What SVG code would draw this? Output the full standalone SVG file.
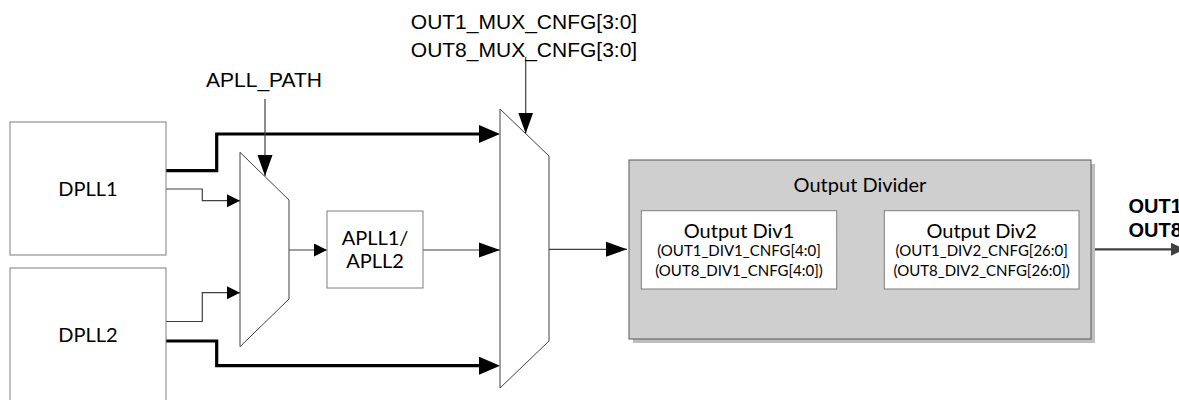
<svg xmlns="http://www.w3.org/2000/svg" width="1179" height="400" viewBox="0 0 1179 400">
<style>
.bg{fill:#ffffff}
.box{fill:#ffffff;stroke:#7f7f7f;stroke-width:1}
.mux{fill:#ffffff;stroke:#404040;stroke-width:1}
.thin{fill:none;stroke:#404040;stroke-width:1.2}
.thick{fill:none;stroke:#000000;stroke-width:3.2}
.cal{font-family:Lato,"Liberation Sans",sans-serif;fill:#000}
.ari{font-family:"Liberation Sans",Arial,sans-serif;fill:#000}
</style>
<defs>
<marker id="arrS" markerUnits="userSpaceOnUse" markerWidth="14" markerHeight="14" refX="13" refY="6.5" orient="auto">
<path d="M0,0 L13,6.5 L0,13 z" fill="#000"/>
</marker>
<marker id="arrL" markerUnits="userSpaceOnUse" markerWidth="22" markerHeight="16" refX="21" refY="8" orient="auto">
<path d="M0,0.5 L21,8 L0,15.5 z" fill="#000"/>
</marker>
<marker id="arrT" markerUnits="userSpaceOnUse" markerWidth="22" markerHeight="18" refX="15" refY="9" orient="auto">
<path d="M0,0 L21,9 L0,18 z" fill="#000"/>
</marker>
<marker id="arrO" markerUnits="userSpaceOnUse" markerWidth="16" markerHeight="14" refX="14" refY="6.5" orient="auto">
<path d="M0,0 L14,6.5 L0,13 z" fill="#404040"/>
</marker>
</defs>
<rect class="bg" x="0" y="0" width="1179" height="400"/>

<g id="connectors">
  <!-- DPLL1 thick to out mux -->
  <path class="thick" d="M166,170.7 H216.7 V134 H494" marker-end="url(#arrT)"/>
  <!-- DPLL2 thick to out mux -->
  <path class="thick" d="M166,341 H216.7 V365.7 H494" marker-end="url(#arrT)"/>
  <!-- DPLL1 thin to apll mux -->
  <path class="thin" d="M166,189 H202.3 V200.7 H240" marker-end="url(#arrS)"/>
  <!-- DPLL2 thin to apll mux -->
  <path class="thin" d="M166,321.5 H202.3 V292.7 H240" marker-end="url(#arrS)"/>
  <!-- APLL mux to APLL box -->
  <path class="thin" d="M289,250 H327" marker-end="url(#arrS)"/>
  <!-- APLL box to out mux -->
  <path class="thin" d="M423,250 H500" marker-end="url(#arrL)"/>
  <!-- out mux to output divider -->
  <path class="thin" d="M549,249.3 H627" marker-end="url(#arrL)"/>
  <!-- Div1 to Div2 -->
  <path class="thin" d="M836.7,249.3 H884" stroke="#595959" marker-end="url(#arrL)"/>
  <!-- output -->
  <path d="M1079,249.3 H1185" fill="none" stroke="#404040" stroke-width="2.2" marker-end="url(#arrO)"/>
  <!-- control arrows -->
  <path class="thin" d="M265,99 V176" marker-end="url(#arrL)"/>
  <path class="thin" d="M525.7,57 V133.6" marker-end="url(#arrL)"/>
</g>

<g id="dpll1">
  <rect class="box" x="10" y="122" width="156" height="133"/>
  <text class="cal" x="88" y="196" font-size="20" text-anchor="middle">DPLL1</text>
</g>
<g id="dpll2">
  <rect class="box" x="10" y="268" width="156" height="150"/>
  <text class="cal" x="88" y="341.5" font-size="20" text-anchor="middle">DPLL2</text>
</g>
<g id="apll-mux">
  <polygon class="mux" points="240,152.3 289,200 289,299 240,346.7"/>
</g>
<g id="apll-path-label">
  <text class="ari" x="264" y="87" font-size="21" text-anchor="middle">APLL_PATH</text>
</g>
<g id="apll">
  <rect class="box" x="327" y="211" width="96" height="77"/>
  <text class="cal" x="375" y="245" font-size="20" text-anchor="middle">APLL1/</text>
  <text class="cal" x="375" y="268" font-size="20" text-anchor="middle">APLL2</text>
</g>
<g id="out-mux">
  <polygon class="mux" points="500,109 549,156 549,341 500,388"/>
</g>
<g id="mux-cnfg-label">
  <text class="ari" x="524" y="29" font-size="21" text-anchor="middle">OUT1_MUX_CNFG[3:0]</text>
  <text class="ari" x="524" y="57" font-size="21" text-anchor="middle">OUT8_MUX_CNFG[3:0]</text>
</g>
<g id="output-divider">
  <rect x="633" y="164" width="462" height="179" fill="#bfbfbf"/>
  <rect x="629" y="160" width="462" height="179" fill="#cfcfcf" stroke="#595959" stroke-width="1"/>
  <text class="cal" x="860" y="191.5" font-size="20" text-anchor="middle">Output Divider</text>
</g>
<g id="output-div1">
  <rect class="box" x="641.3" y="210.7" width="195.4" height="78.3"/>
  <text class="cal" x="739" y="237.5" font-size="20" text-anchor="middle">Output Div1</text>
  <text class="cal" x="739" y="256" font-size="15" text-anchor="middle">(OUT1_DIV1_CNFG[4:0]</text>
  <text class="cal" x="739" y="276" font-size="15" text-anchor="middle">(OUT8_DIV1_CNFG[4:0])</text>
</g>
<g id="output-div2">
  <rect class="box" x="884.3" y="210.7" width="194.7" height="78.3"/>
  <text class="cal" x="981.7" y="237.5" font-size="20" text-anchor="middle">Output Div2</text>
  <text class="cal" x="981.7" y="256" font-size="15" text-anchor="middle">(OUT1_DIV2_CNFG[26:0]</text>
  <text class="cal" x="981.7" y="276" font-size="15" text-anchor="middle">(OUT8_DIV2_CNFG[26:0])</text>
</g>
<g id="out-label">
  <text class="ari" x="1128.5" y="212.5" font-size="20" font-weight="bold">OUT1</text>
  <text class="ari" x="1128.5" y="237" font-size="20" font-weight="bold">OUT8</text>
</g>
</svg>
